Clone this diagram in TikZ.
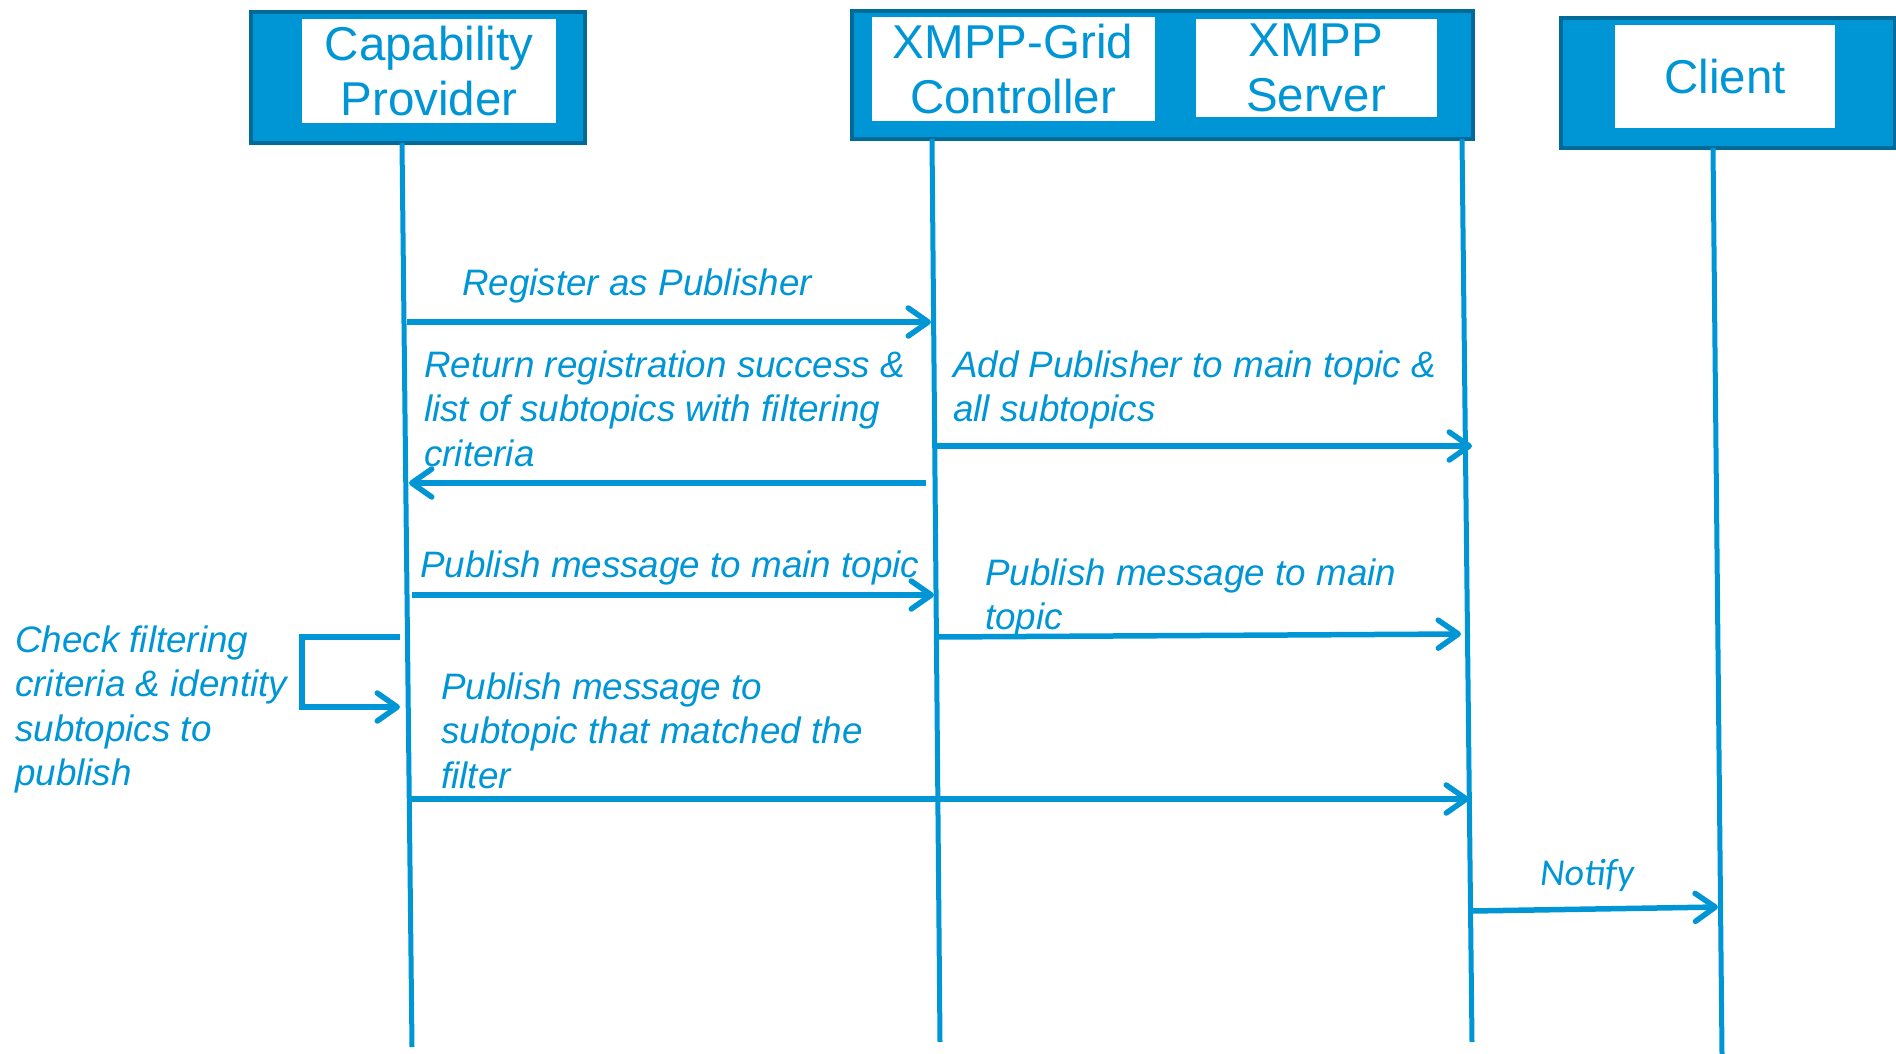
\documentclass[tikz,border=0pt]{standalone}
\usepackage{fontspec}
\setmainfont{Liberation Sans}
\newfontfamily\calibrifont{Carlito}
\usetikzlibrary{arrows.meta}
\definecolor{cisco}{RGB}{0,150,214}
\definecolor{ciscodark}{RGB}{0,106,152}

\begin{document}
\begin{tikzpicture}[x=1pt,y=-1pt,
  actor/.style={draw=ciscodark, fill=cisco, line width=4pt, inner sep=0pt,
    rectangle, anchor=north west},
  tag/.style={fill=white, inner sep=0pt, text=cisco, align=center,
    font=\fontsize{47.5}{55}\selectfont},
  life/.style={draw=cisco, line width=5pt},
  msg/.style={draw=cisco, line width=5.5pt,
    -{Straight Barb[length=20pt,width=28pt,round]}},
  % multi-line labels are anchored at the baseline of their last line
  note/.style={text=cisco, inner sep=0pt, anchor=base west, align=left,
    font=\fontsize{36.8}{44.5}\selectfont\itshape},
]
\useasboundingbox (0,0) rectangle (1896,1054);

% participant headers
\node[actor, minimum width=334pt, minimum height=131pt] (cp) at (249,10) {};
\node[tag, minimum width=254pt, minimum height=104pt] (cpL) at (429,71)
  {Capability\\Provider};

\node[actor, minimum width=621pt, minimum height=128pt] (xg) at (850,9) {};
\node[tag, minimum width=283pt, minimum height=104pt] (gcL) at (1013,69)
  {XMPP-Grid\\Controller};
\node[tag, minimum width=241pt, minimum height=98pt] (xsL) at (1316,68)
  {XMPP\\Server};

\node[actor, minimum width=334pt, minimum height=130pt] (cl) at (1559,16) {};
\node[tag, minimum width=220pt, minimum height=103pt] (clL) at (1725,76.5)
  {Client};

% lifelines
\coordinate (cpTop) at (402,143);  \coordinate (cpBot) at (412,1047);
\coordinate (gcTop) at (932,139);  \coordinate (gcBot) at (940,1042);
\coordinate (xsTop) at (1462,139); \coordinate (xsBot) at (1472,1042);
\coordinate (clTop) at (1713,148); \coordinate (clBot) at (1722,1054);
\draw[life] (cpTop) -- (cpBot);
\draw[life] (gcTop) -- (gcBot);
\draw[life] (xsTop) -- (xsBot);
\draw[life] (clTop) -- (clBot);

% messages
\coordinate (m1s) at (407,322);  \coordinate (m1e) at (931,322);
\coordinate (m2s) at (926,483);  \coordinate (m2e) at (409,483);
\coordinate (m3s) at (937,446);  \coordinate (m3e) at (1472,446);
\coordinate (m4s) at (412,595);  \coordinate (m4e) at (934,595);
\coordinate (m5s) at (938,637);  \coordinate (m5e) at (1461,634);
\coordinate (m6s) at (411,799);  \coordinate (m6e) at (1469,799);
\coordinate (m7s) at (1472,911); \coordinate (m7e) at (1718,907);
\coordinate (lpS) at (400,637);  \coordinate (lpE) at (400,707);

\draw[msg] (m1s) -- (m1e);
\draw[msg] (m2s) -- (m2e);
\draw[msg] (m3s) -- (m3e);
\draw[msg] (m4s) -- (m4e);
\draw[msg] (m5s) -- (m5e);
\draw[msg] (m6s) -- (m6e);
\draw[msg] (m7s) -- (m7e);
\draw[msg] (lpS) -- (302,637) -- (302,707) -- (lpE);

% message labels
\node[note] (t1) at (462,295) {Register as Publisher};
\node[note] (t2) at (424,466)
  {Return registration success \&\\list of subtopics with filtering\\criteria};
\node[note] (t3) at (953,421.5) {Add Publisher to main topic \&\\all subtopics};
\node[note] (t4) at (420,577) {Publish message to main topic};
\node[note] (t5) at (985,629.5) {Publish message to main\\topic};
\node[note] (t6) at (15,785.5)
  {Check filtering\\criteria \& identity\\subtopics to\\publish};
\node[note] (t7) at (441,788)
  {Publish message to\\subtopic that matched the\\filter};
\node[note, font=\fontsize{38}{44}\selectfont\calibrifont\itshape] (t8)
  at (1540,885) {Notify};
\end{tikzpicture}
\end{document}
